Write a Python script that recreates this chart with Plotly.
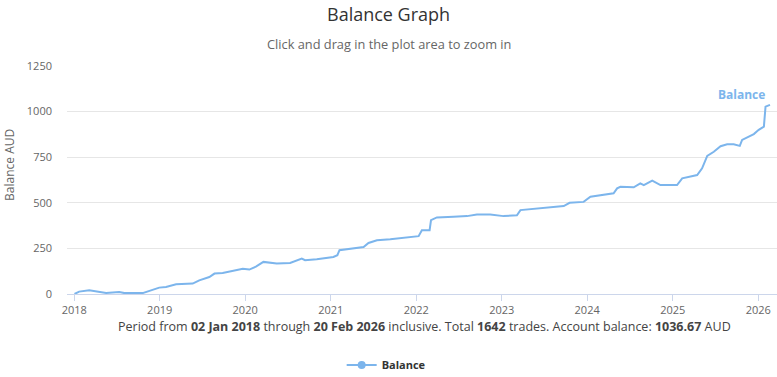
import plotly.graph_objects as go

dates = [
    "2018-01-02", "2018-01-22", "2018-03-06", "2018-04-18", "2018-05-17", "2018-07-12",
    "2018-08-03", "2018-10-20", "2018-12-30", "2019-01-28", "2019-03-12", "2019-05-22",
    "2019-06-19", "2019-08-01", "2019-08-23", "2019-09-27", "2019-11-09", "2019-12-22",
    "2020-01-19", "2020-02-16", "2020-03-19", "2020-05-15", "2020-07-11", "2020-08-09",
    "2020-08-30", "2020-09-13", "2020-11-02", "2021-01-12", "2021-01-29", "2021-02-07",
    "2021-03-25", "2021-05-21", "2021-06-11", "2021-07-17", "2021-09-12", "2021-11-22",
    "2022-01-11", "2022-01-25", "2022-02-27", "2022-03-05", "2022-03-30", "2022-06-09",
    "2022-08-06", "2022-09-17", "2022-11-13", "2023-01-09", "2023-03-07", "2023-03-22",
    "2023-06-15", "2023-09-23", "2023-10-18", "2023-12-17", "2024-01-15", "2024-02-27",
    "2024-04-23", "2024-05-08", "2024-05-22", "2024-07-18", "2024-08-15", "2024-08-30",
    "2024-10-05", "2024-11-09", "2025-01-19", "2025-02-10", "2025-03-17", "2025-04-15",
    "2025-05-06", "2025-05-28", "2025-06-25", "2025-07-24", "2025-08-21", "2025-09-18",
    "2025-10-14", "2025-10-24", "2025-12-13", "2026-01-03", "2026-01-25", "2026-02-01",
    "2026-02-20",
]
balance = [
    0, 13, 20, 13, 6, 11,
    5, 5, 35, 38, 53, 57,
    75, 93, 112, 115, 126, 139,
    134, 150, 176, 167, 170, 185,
    194, 185, 190, 203, 213, 240,
    249, 258, 280, 295, 300, 310,
    317, 350, 350, 405, 420, 423,
    427, 436, 436, 427, 432, 460,
    469, 482, 500, 505, 533, 542,
    552, 579, 588, 585, 607, 597,
    621, 597, 597, 634, 643, 652,
    689, 757, 780, 810, 821, 821,
    812, 845, 877, 900, 918, 1027,
    1036.67,
]
year_ticks = ["2018-01-01", "2019-01-01", "2020-01-01", "2021-01-01", "2022-01-01",
              "2023-01-01", "2024-01-01", "2025-01-01", "2026-01-01"]
year_labels = ["2018", "2019", "2020", "2021", "2022", "2023", "2024", "2025", "2026"]
y_ticks = [0, 250, 500, 750, 1000, 1250]

FONT = "Open Sans"
BLUE = "#7cb5ec"

fig = go.Figure()
fig.add_trace(go.Scatter(x=dates, y=balance, mode="lines",
                         line=dict(color=BLUE, width=2), showlegend=False,
                         hoverinfo="x+y"))
fig.add_trace(go.Scatter(x=[None], y=[None], mode="lines+markers", name="<b>Balance</b>",
                         line=dict(color=BLUE, width=2), marker=dict(color=BLUE, size=8)))

fig.update_layout(
    width=777, height=377,
    margin=dict(l=67, r=0, t=66, b=83),
    paper_bgcolor="white", plot_bgcolor="white",
    font=dict(family=FONT, size=11, color="#666666"),
    xaxis=dict(type="date", range=["2017-12-01", "2026-03-22"],
               tickvals=year_ticks, ticktext=year_labels,
               showgrid=False, showline=True, linecolor="#ccd6eb", linewidth=1,
               ticks="outside", ticklen=6, tickcolor="#ccd6eb",
               tickfont=dict(size=11, color="#666666"), zeroline=False),
    yaxis=dict(range=[0, 1250], tickvals=y_ticks, showgrid=True, gridcolor="#e6e6e6",
               zeroline=False, showline=False, ticks="", ticklabelstandoff=14,
               tickfont=dict(size=11, color="#666666")),
    legend=dict(orientation="h", xref="container", yref="container", x=0.497, y=0.032,
                xanchor="center", yanchor="middle",
                font=dict(size=11, color="#333333")),
    annotations=[
        dict(text="Balance Graph", xref="paper", yref="paper", x=0.4535, y=1.228,
             xanchor="center", yanchor="middle", showarrow=False,
             font=dict(size=18, color="#333333", family=FONT)),
        dict(text="Click and drag in the plot area to zoom in", xref="paper",
             yref="paper", x=0.4535, y=1.0965, xanchor="center", yanchor="middle",
             showarrow=False, font=dict(size=12.8, color="#666666", family=FONT)),
        dict(text="Balance AUD", xref="paper", yref="paper", x=-0.0803,
             y=0.566, textangle=-90, xanchor="center", yanchor="middle",
             showarrow=False, font=dict(size=12, color="#666666", family=FONT)),
        dict(text="Period from <b>02 Jan 2018</b> through <b>20 Feb 2026</b> inclusive. "
                  "Total <b>1642</b> trades. Account balance: <b>1036.67</b> AUD",
             xref="paper", yref="paper", x=0.504, y=-0.1447,
             xanchor="center", yanchor="middle", showarrow=False,
             font=dict(size=12.5, color="#444444", family=FONT)),
        dict(text="<b>Balance</b>", xref="paper", yref="paper", x=0.9507,
             y=0.877, xanchor="center", yanchor="middle", showarrow=False,
             font=dict(size=12, color=BLUE, family=FONT)),
    ],
)

fig.write_html("out.html", config={"displayModeBar": False},
               post_script="document.body.style.margin='0';")
